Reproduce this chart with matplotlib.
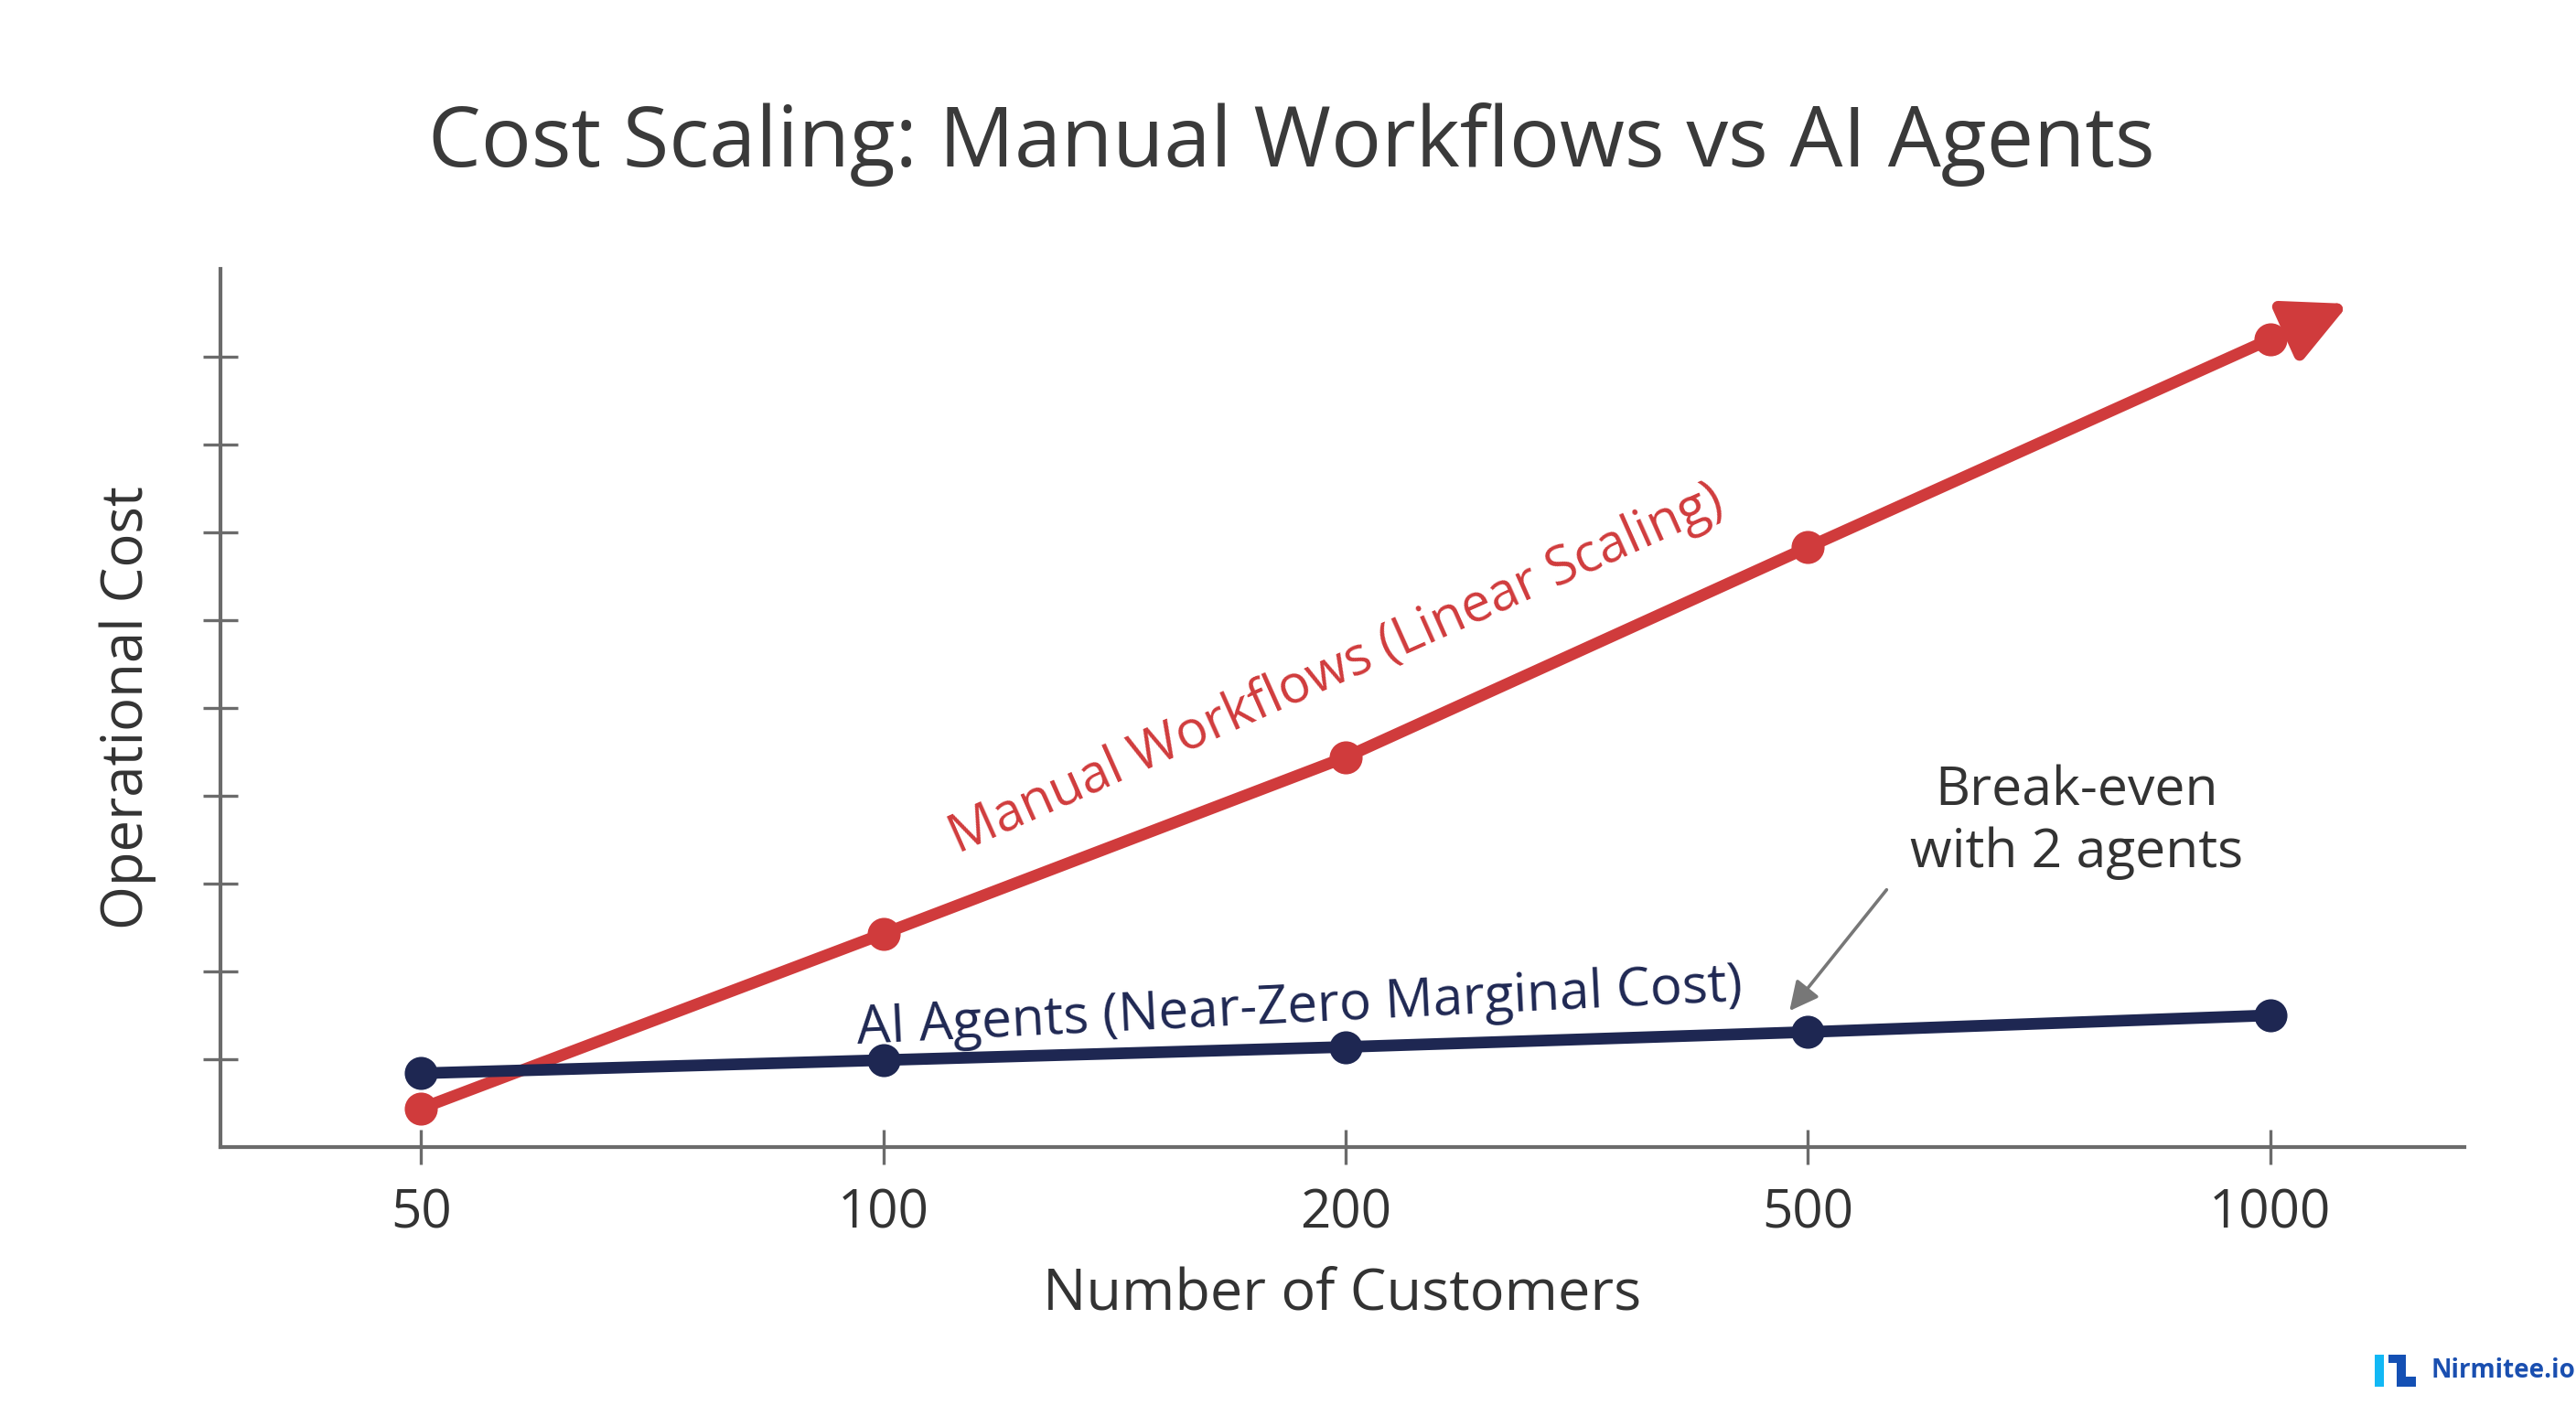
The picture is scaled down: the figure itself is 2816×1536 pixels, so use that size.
import numpy as np
import matplotlib
matplotlib.use('Agg')
import matplotlib.pyplot as plt
from matplotlib.patches import Rectangle

# データ
customers = ['50', '100', '200', '500', '1000']
manual_cost = [0.44, 2.43, 4.44, 6.83, 9.20]
agent_cost = [0.84, 0.99, 1.14, 1.31, 1.50]

title = 'Cost Scaling: Manual Workflows vs AI Agents'
manual_label = 'Manual Workflows (Linear Scaling)'
agent_label = 'AI Agents (Near-Zero Marginal Cost)'
note_text = 'Break-even\nwith 2 agents'

# 色
RED = '#d03b3c'
NAVY = '#1e2752'
AXIS = '#6b6b6b'
TEXT = '#333333'

plt.rcParams['font.family'] = ['Open Sans', 'DejaVu Sans']

fig = plt.figure(figsize=(14.08, 7.68), dpi=200)
ax = fig.add_axes([0.0856, 0.1836, 0.8711, 0.625])

x = np.arange(len(customers))

# 線とマーカー
ax.plot(x, manual_cost, color=RED, lw=4.6, marker='o', ms=12,
        solid_capstyle='round', zorder=3)
ax.plot(x, agent_cost, color=NAVY, lw=4.6, marker='o', ms=12,
        solid_capstyle='round', zorder=4)

# 赤線の先端の矢印（最後の区間の延長）
last = np.array([x[-1], manual_cost[-1]], dtype=float)
prev = np.array([x[-2], manual_cost[-2]], dtype=float)
tip = last + 0.17 * (last - prev)
ax.annotate('', xy=tip, xytext=last,
            arrowprops=dict(arrowstyle='-|>', color=RED, lw=4.6,
                            mutation_scale=52, shrinkA=0, shrinkB=0),
            zorder=3)

# 線のラベル
ax.text(1.98, 5.44, manual_label, color=RED, fontsize=20.8,
        rotation=24, ha='center', va='center', rotation_mode='anchor')
ax.text(1.90, 1.58, agent_label, color=NAVY, fontsize=21,
        rotation=2.8, ha='center', va='center', rotation_mode='anchor')

# 注記
ax.text(3.58, 3.70, note_text, color=TEXT, fontsize=21.2,
        ha='center', va='center', linespacing=1.2)
ax.annotate('', xy=(x[3] - 0.04, agent_cost[3] + 0.24),
            xytext=(x[3] + 0.17, agent_cost[3] + 1.62),
            arrowprops=dict(arrowstyle='-|>', color='#777777', lw=1.3,
                            mutation_scale=24, shrinkA=0, shrinkB=0))

# 軸の設定
ax.set_xlim(-0.434, 4.42)
ax.set_ylim(0, 10)
ax.set_xticks(x)
ax.set_xticklabels(customers)
ax.set_yticks(np.arange(1, 10))
ax.set_yticklabels([])
for side in ['top', 'right']:
    ax.spines[side].set_visible(False)
for side in ['left', 'bottom']:
    ax.spines[side].set_color(AXIS)
    ax.spines[side].set_linewidth(1.5)
ax.tick_params(axis='both', direction='inout', length=13.5, width=1.2,
               color=AXIS, labelsize=21, labelcolor=TEXT)
ax.tick_params(axis='x', pad=9)

ax.set_xlabel('Number of Customers', fontsize=22.7, color=TEXT, labelpad=10)
ax.set_ylabel('Operational Cost', fontsize=22.2, color=TEXT, labelpad=15)

fig.text(0.5015, 0.897, title, ha='center', va='center',
         fontsize=33, color='#3a3a3a')

# ロゴ
logo_parts = [
    ((2596, 1481), 10, 35, '#12b8f5'),
    ((2611, 1481), 19, 9, '#1450b4'),
    ((2620, 1481), 10, 35, '#1450b4'),
    ((2630, 1505), 11, 11, '#1450b4'),
]
W, H = 2816.0, 1536.0
for (px, py), w, h, c in logo_parts:
    fig.add_artist(Rectangle((px / W, 1 - (py + h) / H), w / W, h / H,
                             transform=fig.transFigure, color=c, lw=0))
fig.text(2658 / W, 1 - 1499 / H, 'Nirmitee.io', ha='left', va='center',
         fontsize=10, fontweight='bold', color='#1a4fb0')

plt.savefig('out.png', dpi=200, facecolor='white')
plt.close()
